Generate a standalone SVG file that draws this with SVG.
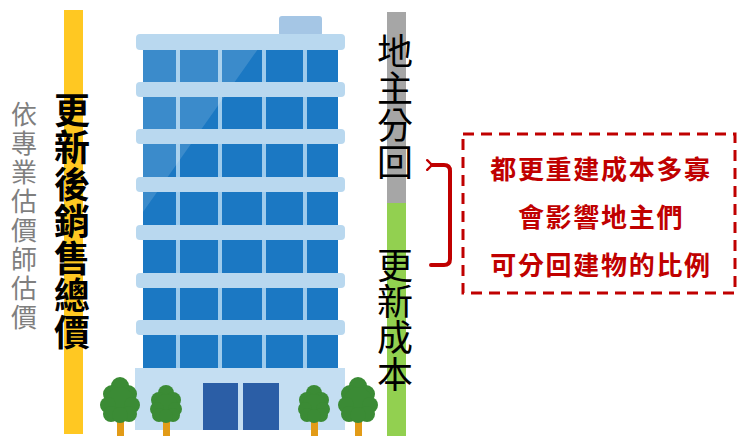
<svg xmlns="http://www.w3.org/2000/svg" width="738" height="436" viewBox="0 0 738 436">
  <style>
    .slab { fill: #b9d8ef; }
    .win { fill: #1b78c3; }
    .crown { fill: #3b8b35; }
    .trunk { fill: #e29b17; }
    .door { fill: #2b5ea6; }
    .vbig { font-family: "Noto Sans CJK TC", "Noto Sans CJK SC", sans-serif; font-size: 36px; text-anchor: middle; fill: #000; }
    .vgray { font-family: "Noto Sans CJK TC", "Noto Sans CJK SC", sans-serif; font-size: 26px; text-anchor: middle; fill: #7f7f7f; }
    .note { font-family: "Noto Sans CJK TC", "Noto Sans CJK SC", sans-serif; font-size: 26px; font-weight: 700; text-anchor: middle; fill: #c00000; letter-spacing: 1.7px; }
    .redline { fill: none; stroke: #c00000; stroke-width: 4; stroke-linecap: round; stroke-linejoin: round; }
  </style>
  <defs>
    <marker id="chev" viewBox="0 0 10 10" refX="3" refY="5" markerWidth="3" markerHeight="3" orient="auto" markerUnits="strokeWidth">
      <path d="M7,1 L3,5 L7,9" fill="none" stroke="#c00000" stroke-width="2" stroke-linecap="round" stroke-linejoin="round"/>
    </marker>
    <clipPath id="winclip">
      <rect x="143" y="49" width="195" height="320"/>
    </clipPath>
  </defs>

  <rect width="738" height="436" fill="#ffffff"/>

  <!-- value bars -->
  <g id="bar-sales">
    <rect x="64" y="10" width="19" height="424" fill="#ffc822"/>
  </g>
  <g id="bar-split">
    <rect x="387" y="12" width="19" height="191" fill="#a6a6a6"/>
    <rect x="387" y="203" width="19" height="233" fill="#92d050"/>
  </g>

  <!-- office building -->
  <g id="building">
    <rect x="279" y="16" width="43" height="20" rx="3" fill="#a5c6e5"/>
    <!-- glazing with mullions -->
    <rect x="143" y="45" width="195" height="325" fill="#9ecbec"/>
    <g class="win">
      <rect x="143" y="49" width="33" height="33"/><rect x="180" y="49" width="38" height="33"/><rect x="222" y="49" width="40" height="33"/><rect x="266" y="49" width="37" height="33"/><rect x="307" y="49" width="31" height="33"/>
      <rect x="143" y="97" width="33" height="32"/><rect x="180" y="97" width="38" height="32"/><rect x="222" y="97" width="40" height="32"/><rect x="266" y="97" width="37" height="32"/><rect x="307" y="97" width="31" height="32"/>
      <rect x="143" y="144" width="33" height="33"/><rect x="180" y="144" width="38" height="33"/><rect x="222" y="144" width="40" height="33"/><rect x="266" y="144" width="37" height="33"/><rect x="307" y="144" width="31" height="33"/>
      <rect x="143" y="192" width="33" height="33"/><rect x="180" y="192" width="38" height="33"/><rect x="222" y="192" width="40" height="33"/><rect x="266" y="192" width="37" height="33"/><rect x="307" y="192" width="31" height="33"/>
      <rect x="143" y="240" width="33" height="33"/><rect x="180" y="240" width="38" height="33"/><rect x="222" y="240" width="40" height="33"/><rect x="266" y="240" width="37" height="33"/><rect x="307" y="240" width="31" height="33"/>
      <rect x="143" y="288" width="33" height="32"/><rect x="180" y="288" width="38" height="32"/><rect x="222" y="288" width="40" height="32"/><rect x="266" y="288" width="37" height="32"/><rect x="307" y="288" width="31" height="32"/>
      <rect x="143" y="335" width="33" height="34"/><rect x="180" y="335" width="38" height="34"/><rect x="222" y="335" width="40" height="34"/><rect x="266" y="335" width="37" height="34"/><rect x="307" y="335" width="31" height="34"/>
    </g>
    <!-- glass reflection -->
    <g clip-path="url(#winclip)">
      <polygon points="143,49 258,49 143,212" fill="#ffffff" opacity="0.14"/>
    </g>
    <!-- floor slabs -->
    <rect class="slab" x="136" y="34" width="209" height="16" rx="4"/>
    <rect class="slab" x="136" y="82" width="209" height="15" rx="4"/>
    <rect class="slab" x="136" y="129" width="209" height="15" rx="4"/>
    <rect class="slab" x="136" y="177" width="209" height="15" rx="4"/>
    <rect class="slab" x="136" y="225" width="209" height="15" rx="4"/>
    <rect class="slab" x="136" y="273" width="209" height="15" rx="4"/>
    <rect class="slab" x="136" y="320" width="209" height="15" rx="4"/>
    <!-- ground floor -->
    <rect x="135" y="368" width="210" height="62" fill="#c4def2"/>
    <rect class="door" x="203" y="383" width="35" height="47"/>
    <rect class="door" x="243" y="383" width="36" height="47"/>
  </g>

  <!-- trees -->
  <g id="tree-1">
    <rect class="trunk" x="117" y="418" width="7" height="18"/>
    <g class="crown">
      <circle cx="120" cy="386" r="9"/><circle cx="112" cy="394" r="9"/><circle cx="128" cy="394" r="9"/>
      <circle cx="120" cy="401" r="14"/><circle cx="108" cy="405" r="8"/><circle cx="132" cy="405" r="8"/>
      <circle cx="111" cy="414" r="8"/><circle cx="129" cy="414" r="8"/><circle cx="120" cy="415" r="8"/>
    </g>
  </g>
  <g id="tree-2">
    <rect class="trunk" x="163" y="418" width="7" height="18"/>
    <g class="crown">
      <circle cx="166" cy="393" r="8"/><circle cx="159" cy="400" r="8"/><circle cx="173" cy="400" r="8"/>
      <circle cx="166" cy="406" r="12"/><circle cx="157" cy="409" r="7"/><circle cx="175" cy="409" r="7"/>
      <circle cx="159" cy="415" r="7"/><circle cx="173" cy="415" r="7"/><circle cx="166" cy="416" r="7"/>
    </g>
  </g>
  <g id="tree-3">
    <rect class="trunk" x="311" y="418" width="7" height="18"/>
    <g class="crown">
      <circle cx="314" cy="393" r="8"/><circle cx="307" cy="400" r="8"/><circle cx="321" cy="400" r="8"/>
      <circle cx="314" cy="406" r="12"/><circle cx="305" cy="409" r="7"/><circle cx="323" cy="409" r="7"/>
      <circle cx="307" cy="415" r="7"/><circle cx="321" cy="415" r="7"/><circle cx="314" cy="416" r="7"/>
    </g>
  </g>
  <g id="tree-4">
    <rect class="trunk" x="355" y="418" width="7" height="18"/>
    <g class="crown">
      <circle cx="358" cy="386" r="9"/><circle cx="350" cy="394" r="9"/><circle cx="366" cy="394" r="9"/>
      <circle cx="358" cy="401" r="14"/><circle cx="346" cy="405" r="8"/><circle cx="370" cy="405" r="8"/>
      <circle cx="349" cy="414" r="8"/><circle cx="367" cy="414" r="8"/><circle cx="358" cy="415" r="8"/>
    </g>
  </g>

  <!-- vertical labels, one glyph per line -->
  <g id="label-appraisal">
    <text class="vgray">
      <tspan x="24" y="124">依</tspan><tspan x="24" y="153">專</tspan><tspan x="24" y="182">業</tspan><tspan x="24" y="211">估</tspan><tspan x="24" y="240">價</tspan><tspan x="24" y="269">師</tspan><tspan x="24" y="298">估</tspan><tspan x="24" y="327">價</tspan>
    </text>
  </g>
  <g id="label-sales">
    <text class="vbig" font-weight="700">
      <tspan x="72" y="124">更</tspan><tspan x="72" y="161">新</tspan><tspan x="72" y="198">後</tspan><tspan x="72" y="235">銷</tspan><tspan x="72" y="272">售</tspan><tspan x="72" y="309">總</tspan><tspan x="72" y="346">價</tspan>
    </text>
  </g>
  <g id="label-owner">
    <text class="vbig">
      <tspan x="395" y="65">地</tspan><tspan x="395" y="102">主</tspan><tspan x="395" y="139">分</tspan><tspan x="395" y="176">回</tspan>
    </text>
  </g>
  <g id="label-cost">
    <text class="vbig">
      <tspan x="395" y="279">更</tspan><tspan x="395" y="315">新</tspan><tspan x="395" y="351">成</tspan><tspan x="395" y="388">本</tspan>
    </text>
  </g>

  <!-- connectors -->
  <g id="connectors">
    <path class="redline" d="M431,265 H444 Q450,265 450,259 V171 Q450,165 444,165 H432" marker-end="url(#chev)"/>
  </g>

  <!-- note box -->
  <g id="note">
    <rect x="463" y="134" width="272" height="159" fill="none" stroke="#c00000" stroke-width="3" stroke-dasharray="11 7"/>
    <text class="note" x="601" y="179">都更重建成本多寡</text>
    <text class="note" x="601" y="227">會影響地主們</text>
    <text class="note" x="601" y="275">可分回建物的比例</text>
  </g>
</svg>
